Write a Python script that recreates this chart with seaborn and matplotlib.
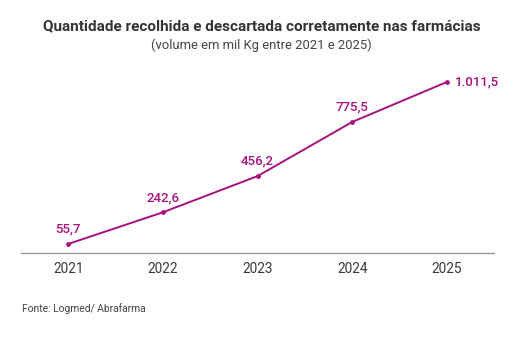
import matplotlib
matplotlib.use('Agg')
import matplotlib.pyplot as plt
import seaborn as sns
import pandas as pd

# Data
anos = ['2021', '2022', '2023', '2024', '2025']
volume = [55.7, 242.6, 456.2, 775.5, 1011.5]
rotulos = ['55,7', '242,6', '456,2', '775,5', '1.011,5']

df = pd.DataFrame({'Ano': anos, 'Volume': volume})

sns.set_style('white')
plt.rcParams['font.family'] = ['Roboto', 'DejaVu Sans']

cor = '#A8127F'

fig = plt.figure(figsize=(5.23, 3.62), dpi=100)
ax = fig.add_axes([0.040, 0.300, 0.905, 0.515])

sns.lineplot(data=df, x='Ano', y='Volume', ax=ax, color=cor, linewidth=1.4,
             marker='o', markersize=3.5, markeredgewidth=0, sort=False)

# value labels
for i, (v, t) in enumerate(zip(volume, rotulos)):
    if i == len(volume) - 1:
        ax.annotate(t, (i, v), xytext=(6, 0), textcoords='offset points',
                    ha='left', va='center', color=cor, fontsize=9.5, fontweight='medium')
    else:
        ax.annotate(t, (i, v), xytext=(0, 6), textcoords='offset points',
                    ha='center', va='bottom', color=cor, fontsize=9.5, fontweight='medium')

ax.set_xlim(-0.5, 4.5)
ax.set_ylim(0, 1100)
ax.set_yticks([])
ax.set_xlabel('')
ax.set_ylabel('')
ax.tick_params(axis='x', length=0, labelsize=9.8, labelcolor='#3a3a3a', pad=6)
for s in ['top', 'right', 'left']:
    ax.spines[s].set_visible(False)
ax.spines['bottom'].set_color('#999999')
ax.spines['bottom'].set_linewidth(1)

fig.text(0.5, 0.927, 'Quantidade recolhida e descartada corretamente nas farmácias',
         ha='center', va='center', fontsize=11, fontweight='bold', color='#333333')
fig.text(0.5, 0.876, '(volume em mil Kg entre 2021 e 2025)',
         ha='center', va='center', fontsize=9.4, color='#444444')
fig.text(0.042, 0.147, 'Fonte: Logmed/ Abrafarma', ha='left', va='center',
         fontsize=7.4, color='#444444')

fig.savefig('out.png', dpi=100, facecolor='white')
